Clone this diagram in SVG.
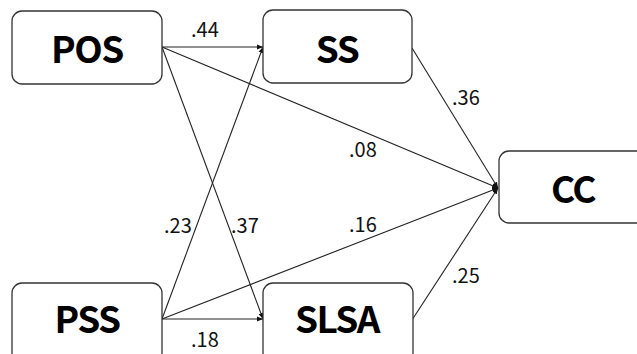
<svg xmlns="http://www.w3.org/2000/svg" width="637" height="354" viewBox="0 0 637 354">
<style>
.box{fill:#fff;stroke:#333;stroke-width:1.3}
.lbl{font-family:"Noto Sans CJK KR","Open Sans",sans-serif;font-weight:bold;font-size:37px;letter-spacing:-1.5px;fill:#000;text-anchor:middle}
.num{font-family:"Noto Sans CJK KR","Open Sans",sans-serif;font-size:20px;fill:#111}
.edge{stroke:#222;stroke-width:1.1;fill:none;marker-end:url(#ah)}
</style>
<defs>
<marker id="ah" viewBox="0 0 10 10" refX="10" refY="5" markerWidth="6" markerHeight="6" orient="auto" markerUnits="userSpaceOnUse">
<path d="M0,1 L10,5 L0,9 z" fill="#111"/>
</marker>
</defs>
<rect width="637" height="354" fill="#fff"/>
<g id="connectors">
<line class="edge" x1="162" y1="47" x2="263" y2="47"/>
<line class="edge" x1="162" y1="47" x2="498" y2="188"/>
<line class="edge" x1="162" y1="47" x2="263" y2="319"/>
<line class="edge" x1="162" y1="319" x2="263" y2="47"/>
<line class="edge" x1="162" y1="319" x2="263" y2="319"/>
<line class="edge" x1="162" y1="319" x2="498" y2="188"/>
<line class="edge" x1="412" y1="48" x2="498" y2="188"/>
<line class="edge" x1="412" y1="320" x2="498" y2="188"/>
<text class="num" x="191" y="37">.44</text>
<text class="num" x="452" y="105">.36</text>
<text class="num" x="349" y="157">.08</text>
<text class="num" x="164" y="233">.23</text>
<text class="num" x="231" y="233">.37</text>
<text class="num" x="349" y="232">.16</text>
<text class="num" x="452" y="283">.25</text>
<text class="num" x="191" y="347">.18</text>
</g>
<g id="POS"><rect class="box" x="12" y="11" width="150" height="73" rx="10"/><text class="lbl" x="87" y="63">POS</text></g>
<g id="SS"><rect class="box" x="263" y="10" width="149" height="73" rx="10"/><text class="lbl" x="337" y="63">SS</text></g>
<g id="CC"><rect class="box" x="499" y="151" width="150" height="72" rx="10"/><text class="lbl" x="573" y="203">CC</text></g>
<g id="PSS"><rect class="box" x="12" y="283" width="150" height="80" rx="10"/><text class="lbl" x="87" y="333">PSS</text></g>
<g id="SLSA"><rect class="box" x="263" y="283" width="150" height="80" rx="10"/><text class="lbl" x="337" y="333">SLSA</text></g>
</svg>
